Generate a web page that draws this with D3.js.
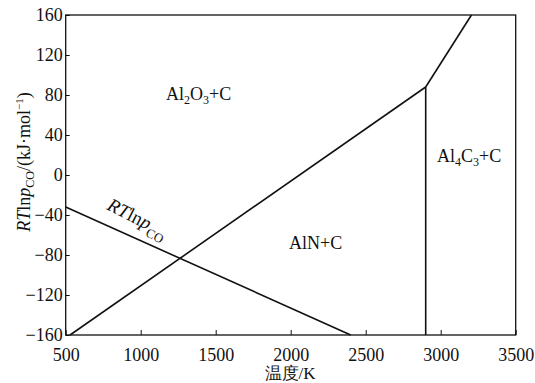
<!DOCTYPE html>
<html><head><meta charset="utf-8">
<script src="https://cdn.jsdelivr.net/npm/d3@7"></script>
<style>
body{margin:0;background:#fff;}
text{font-family:"Liberation Serif","Times New Roman",serif;fill:#111;}
</style></head>
<body><svg id="c" width="535" height="383"></svg>
<script>
// Data
const xTicks = [500,1000,1500,2000,2500,3000,3500];
const yTicks = [-160,-120,-80,-40,0,40,80,120,160];
const rtLine = [[500,-32],[2400,-160]];            // RT ln pCO
const oxideNitride = [[529,-160],[2900,88]];        // Al2O3+C / AlN+C boundary
const nitrideCarbide = [[2900,88],[2900,-160]];     // AlN+C / Al4C3+C boundary
const oxideCarbide = [[2900,88],[3205,160]];        // Al2O3+C / Al4C3+C boundary
const lines = [rtLine, oxideNitride, nitrideCarbide, oxideCarbide];

const svg = d3.select("#c");
const FF = "Liberation Serif, Times New Roman, serif";
const L=65.7, R=515.7, T=15, B=335;
const x = d3.scaleLinear().domain([500,3500]).range([L,R]);
const y = d3.scaleLinear().domain([-160,160]).range([B,T]);
const fmt = d => d<0 ? "\u2212"+Math.abs(d) : ""+d;

// frame
svg.append("rect").attr("x",L).attr("y",T).attr("width",R-L).attr("height",B-T)
  .attr("fill","none").attr("stroke","#111").attr("stroke-width",1.3);

// x axis
const xa = svg.append("g").attr("transform",`translate(0,${B})`)
  .call(d3.axisBottom(x).tickValues(xTicks).tickSizeInner(-5).tickSizeOuter(0).tickPadding(8).tickFormat(fmt))
  .attr("font-family",FF);
xa.select(".domain").remove();
xa.selectAll("line").attr("stroke","#111").attr("stroke-width",1);
xa.selectAll("text").attr("font-size",18).attr("dy","0.71em").attr("y",13).attr("fill","#111");

// y axis
const ya = svg.append("g").attr("transform",`translate(${L},0)`)
  .call(d3.axisLeft(y).tickValues(yTicks).tickSizeInner(-4).tickSizeOuter(0).tickPadding(4).tickFormat(fmt))
  .attr("font-family",FF);
ya.select(".domain").remove();
ya.selectAll("line").attr("stroke","#111").attr("stroke-width",1);
ya.selectAll("text").attr("font-size",18).attr("x",-3).attr("fill","#111");

// lines
const lg = d3.line().x(d=>x(d[0])).y(d=>y(d[1]));
svg.append("g").selectAll("path").data(lines).join("path")
  .attr("d",lg).attr("fill","none").attr("stroke","#111").attr("stroke-width",1.6);

// labels
const t1 = svg.append("text").attr("x",166).attr("y",100).attr("font-size",18);
t1.append("tspan").text("Al");
t1.append("tspan").text("2").attr("font-size",12).attr("dy",4);
t1.append("tspan").text("O").attr("dy",-4);
t1.append("tspan").text("3").attr("font-size",12).attr("dy",4);
t1.append("tspan").text("+C").attr("dy",-4);

svg.append("text").attr("x",289).attr("y",248.5).attr("font-size",18).text("AlN+C");

const t3 = svg.append("text").attr("x",437).attr("y",162).attr("font-size",18);
t3.append("tspan").text("Al");
t3.append("tspan").text("4").attr("font-size",12).attr("dy",4);
t3.append("tspan").text("C").attr("dy",-4);
t3.append("tspan").text("3").attr("font-size",12).attr("dy",4);
t3.append("tspan").text("+C").attr("dy",-4);

// RT ln pCO on the line
const t4 = svg.append("text").attr("font-size",19)
  .attr("transform",`translate(106,209) rotate(27)`);
t4.append("tspan").text("RT").attr("font-style","italic");
t4.append("tspan").text("ln");
t4.append("tspan").text("p").attr("font-style","italic");
t4.append("tspan").text("CO").attr("font-size",13).attr("dy",6);

// y title
const yt = svg.append("text").attr("font-size",18).attr("text-anchor","middle")
  .attr("transform","translate(30,162) rotate(-90)");
yt.append("tspan").text("RT").attr("font-style","italic");
yt.append("tspan").text("ln");
yt.append("tspan").text("p").attr("font-style","italic");
yt.append("tspan").text("CO").attr("font-size",12).attr("dy",4);
yt.append("tspan").text("/(kJ\u00b7mol").attr("dy",-4);
yt.append("tspan").text("\u22121").attr("font-size",11).attr("dy",-7);
yt.append("tspan").text(")").attr("dy",7);

// x title
svg.append("text").attr("x",290).attr("y",379).attr("font-size",17).attr("text-anchor","middle")
  .text("温度/K");
</script></body></html>
